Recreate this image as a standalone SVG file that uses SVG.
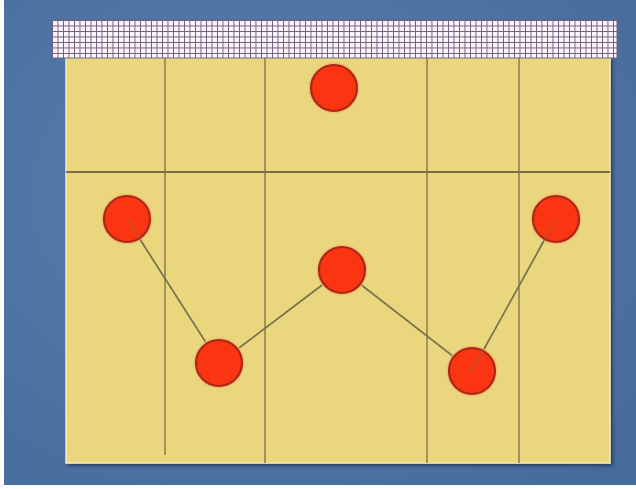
<svg xmlns="http://www.w3.org/2000/svg" width="636" height="489" viewBox="0 0 636 489">
  <defs>
    <pattern id="net" width="5.5" height="5.5" patternUnits="userSpaceOnUse" x="52" y="20">
      <rect width="5.5" height="5.5" fill="#fbf4fb"/>
      <path d="M0 0H5.5M0 0V5.5" stroke="#6a5a78" stroke-width="1.8" fill="none"/>
    </pattern>
    <radialGradient id="bg" cx="0.4" cy="0.4" r="0.8">
      <stop offset="0" stop-color="#5a7fb0"/>
      <stop offset="1" stop-color="#456a9c"/>
    </radialGradient>
    <filter id="shadow" x="-5%" y="-5%" width="110%" height="110%">
      <feDropShadow dx="2" dy="2" stdDeviation="1.5" flood-color="#1a2a40" flood-opacity="0.7"/>
    </filter>
  </defs>
  <style>
    .vline { stroke: #9c8c55; stroke-width: 1.8; }
    .hline { stroke: #7d6c42; stroke-width: 2; }
    .player { fill: #fb3412; stroke: #a82a16; stroke-width: 2.2; }
    .halo { fill: none; stroke: #f6b070; stroke-width: 2; opacity: 0.7; }
    .path { stroke: #7b7650; stroke-width: 1.8; fill: none; }
  </style>
  <rect x="0" y="0" width="636" height="489" fill="#ffffff"/>
  <rect x="4" y="0" width="632" height="485" fill="url(#bg)"/>

  <g id="court">
    <rect x="66" y="58" width="544" height="405" fill="#e9d67d" stroke="#f4ecc0" stroke-width="1.5" filter="url(#shadow)"/>
    <line class="vline" x1="165" y1="58" x2="165" y2="455"/>
    <line class="vline" x1="265" y1="58" x2="265" y2="463"/>
    <line class="vline" x1="427" y1="58" x2="427" y2="463"/>
    <line class="vline" x1="519" y1="58" x2="519" y2="463"/>
    <line class="hline" x1="66" y1="172" x2="610" y2="172"/>
  </g>

  <g id="net-band">
    <rect x="52" y="20" width="565" height="38" fill="url(#net)" stroke="#6f6080" stroke-width="1"/>
  </g>

  <g id="connectors">
    <polyline class="path" points="127,219 219,363 342,270 472,371 556,219"/>
  </g>

  <g id="player-top">
    <circle class="halo" cx="334" cy="88" r="24.5"/>
    <circle class="player" cx="334" cy="88" r="23"/>
  </g>
  <g id="player-1">
    <circle class="halo" cx="127" cy="219" r="24.5"/>
    <circle class="player" cx="127" cy="219" r="23"/>
  </g>
  <g id="player-2">
    <circle class="halo" cx="219" cy="363" r="24.5"/>
    <circle class="player" cx="219" cy="363" r="23"/>
  </g>
  <g id="player-3">
    <circle class="halo" cx="342" cy="270" r="24.5"/>
    <circle class="player" cx="342" cy="270" r="23"/>
  </g>
  <g id="player-4">
    <circle class="halo" cx="472" cy="371" r="24.5"/>
    <circle class="player" cx="472" cy="371" r="23"/>
  </g>
  <g id="player-5">
    <circle class="halo" cx="556" cy="219" r="24.5"/>
    <circle class="player" cx="556" cy="219" r="23"/>
  </g>
  <g id="connector-overlay" opacity="0.35">
    <line class="path" x1="127" y1="219" x2="145" y2="247"/>
    <line class="path" x1="472" y1="371" x2="490" y2="338"/>
    <line class="path" x1="556" y1="219" x2="538" y2="251"/>
  </g>
</svg>
